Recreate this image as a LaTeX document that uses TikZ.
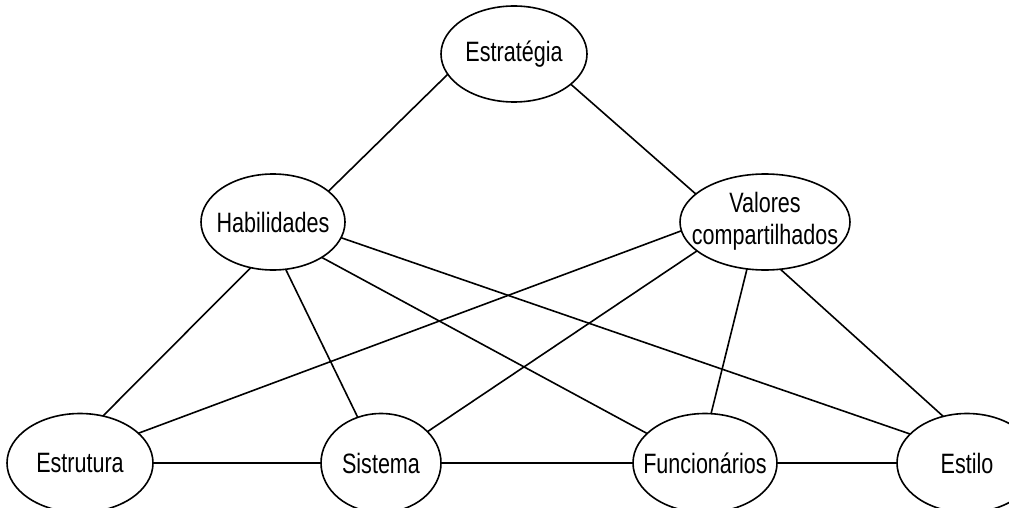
\documentclass[tikz,border=0pt]{standalone}
\usepackage{fontspec}
\setmainfont{Liberation Sans}[FakeStretch=0.77]
\usetikzlibrary{shapes.geometric}
\tikzset{
  ell/.style={draw, ellipse, line width=1.6pt, inner sep=0pt, outer sep=0pt,
    font=\fontsize{28}{32}\selectfont},
  conn/.style={line width=1.6pt}
}
\newcommand{\zt}[1]{\makebox[0pt]{#1}}
\begin{document}
\begin{tikzpicture}[x=1pt,y=-1pt]
\useasboundingbox (0,0) rectangle (1009,508);
\clip (0,0) rectangle (1009,508);
\node[ell, minimum width=146pt, minimum height=96pt] (est) at (514,54) {\zt{Estratégia}};
\node[ell, minimum width=144pt, minimum height=96pt] (hab) at (273,222) {\zt{Habilidades}};
\node[ell, minimum width=170pt, minimum height=96pt] (val) at (765,222) {\zt{\raisebox{4pt}{\begin{tabular}{@{}c@{}}Valores\\compartilhados\end{tabular}}}};
\node[ell, minimum width=146pt, minimum height=99pt] (etu) at (80,463) {\zt{Estrutura}};
\node[ell, minimum width=120pt, minimum height=99pt] (sis) at (381,463) {\zt{Sistema}};
\node[ell, minimum width=144pt, minimum height=99pt] (fun) at (705,463) {\zt{Funcionários}};
\node[ell, minimum width=140pt, minimum height=99pt] (esl) at (967,463) {\zt{Estilo}};
\draw[conn] (est.197) -- (hab.29);
\draw[conn] (est.332) -- (val.158);
\draw[conn] (hab.244) -- (etu.64);
\draw[conn] (hab.285) -- (sis.117);
\draw[conn] (hab.324) -- (fun.153);
\draw[conn] (hab.347) -- (esl.153);
\draw[conn] (val.186) -- (etu.27);
\draw[conn] (val.203) -- (sis.34);
\draw[conn] (val.249) -- (fun.83);
\draw[conn] (val.288) -- (esl.117);
\draw[conn] (etu.0) -- (sis.180);
\draw[conn] (sis.0) -- (fun.180);
\draw[conn] (fun.0) -- (esl.180);
\end{tikzpicture}
\end{document}
